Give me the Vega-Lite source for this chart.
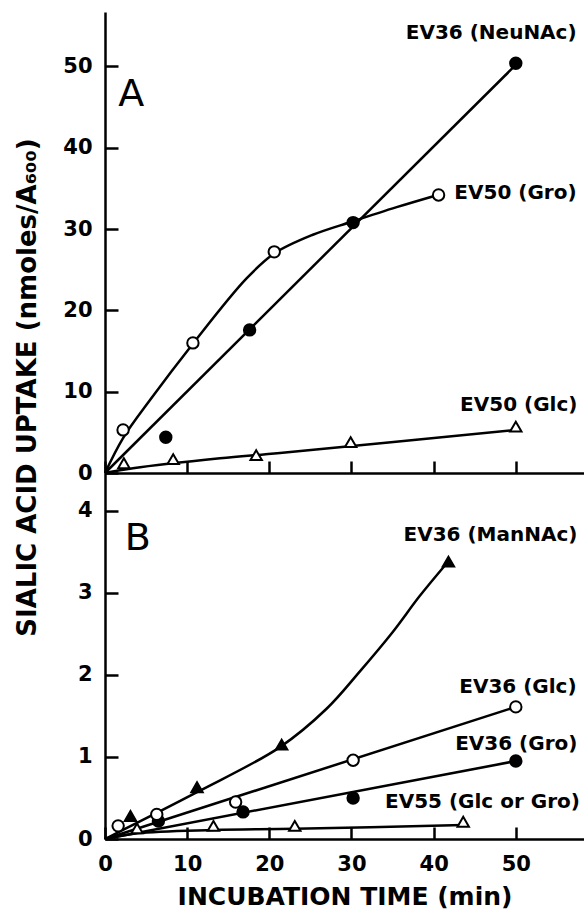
{
  "$schema": "https://vega.github.io/schema/vega-lite/v6.json",
  "padding": {"left": 14, "top": 12, "right": 0, "bottom": 0},
  "spacing": 0,
  "bounds": "flush",
  "background": "white",
  "config": {
    "view": {"stroke": null},
    "font": "DejaVu Sans",
    "axis": {
      "domainColor": "black", "domainWidth": 2.5, "tickColor": "black", "tickWidth": 2.5,
      "grid": false, "labelFont": "DejaVu Sans", "labelFontWeight": "bold", "labelFontSize": 21,
      "labelColor": "black", "titleColor": "black", "titleFont": "DejaVu Sans", "titleFontWeight": "bold",
      "labelFlush": false
    }
  },
  "resolve": {"scale": {"x": "independent", "y": "independent"}},
  "datasets": {
    "curves": [
      {"panel": "A", "series": "NeuNAc", "x": 0, "y": 0},
      {"panel": "A", "series": "NeuNAc", "x": 50, "y": 50.2},
      {"panel": "A", "series": "Gro50", "x": 0, "y": 0},
      {"panel": "A", "series": "Gro50", "x": 2.2, "y": 4.3},
      {"panel": "A", "series": "Gro50", "x": 5.5, "y": 9.0},
      {"panel": "A", "series": "Gro50", "x": 10.7, "y": 15.9},
      {"panel": "A", "series": "Gro50", "x": 17.2, "y": 23.9},
      {"panel": "A", "series": "Gro50", "x": 20.6, "y": 27.0},
      {"panel": "A", "series": "Gro50", "x": 25.3, "y": 29.3},
      {"panel": "A", "series": "Gro50", "x": 30, "y": 30.9},
      {"panel": "A", "series": "Gro50", "x": 35.5, "y": 32.7},
      {"panel": "A", "series": "Gro50", "x": 40.5, "y": 34.2},
      {"panel": "A", "series": "Glc50", "x": 0, "y": 0},
      {"panel": "A", "series": "Glc50", "x": 3.4, "y": 0.58},
      {"panel": "A", "series": "Glc50", "x": 14, "y": 1.8},
      {"panel": "A", "series": "Glc50", "x": 21.3, "y": 2.46},
      {"panel": "A", "series": "Glc50", "x": 50, "y": 5.3},
      {"panel": "B", "series": "ManNAc", "x": 0, "y": 0},
      {"panel": "B", "series": "ManNAc", "x": 11.2, "y": 0.57},
      {"panel": "B", "series": "ManNAc", "x": 21.3, "y": 1.12},
      {"panel": "B", "series": "ManNAc", "x": 27, "y": 1.59},
      {"panel": "B", "series": "ManNAc", "x": 31, "y": 2.04},
      {"panel": "B", "series": "ManNAc", "x": 35, "y": 2.52},
      {"panel": "B", "series": "ManNAc", "x": 38.3, "y": 2.96},
      {"panel": "B", "series": "ManNAc", "x": 41.6, "y": 3.36},
      {"panel": "B", "series": "Glc36", "x": 0, "y": 0},
      {"panel": "B", "series": "Glc36", "x": 50, "y": 1.61},
      {"panel": "B", "series": "Gro36", "x": 0, "y": 0},
      {"panel": "B", "series": "Gro36", "x": 50, "y": 0.95},
      {"panel": "B", "series": "EV55", "x": 0, "y": 0},
      {"panel": "B", "series": "EV55", "x": 3.9, "y": 0.07},
      {"panel": "B", "series": "EV55", "x": 13.2, "y": 0.11},
      {"panel": "B", "series": "EV55", "x": 23.1, "y": 0.125},
      {"panel": "B", "series": "EV55", "x": 43.6, "y": 0.17}
    ],
    "points": [
      {"panel": "A", "series": "NeuNAc", "marker": "fc", "x": 7.4, "y": 4.4},
      {"panel": "A", "series": "NeuNAc", "marker": "fc", "x": 17.6, "y": 17.6},
      {"panel": "A", "series": "NeuNAc", "marker": "fc", "x": 30.2, "y": 30.8},
      {"panel": "A", "series": "NeuNAc", "marker": "fc", "x": 50, "y": 50.4},
      {"panel": "A", "series": "Gro50", "marker": "oc", "x": 2.2, "y": 5.3},
      {"panel": "A", "series": "Gro50", "marker": "oc", "x": 10.7, "y": 16.0},
      {"panel": "A", "series": "Gro50", "marker": "oc", "x": 20.6, "y": 27.2},
      {"panel": "A", "series": "Gro50", "marker": "oc", "x": 40.6, "y": 34.2},
      {"panel": "A", "series": "Glc50", "marker": "ot", "x": 2.3, "y": 1.2},
      {"panel": "A", "series": "Glc50", "marker": "ot", "x": 8.3, "y": 1.7},
      {"panel": "A", "series": "Glc50", "marker": "ot", "x": 18.4, "y": 2.2},
      {"panel": "A", "series": "Glc50", "marker": "ot", "x": 29.9, "y": 3.8},
      {"panel": "A", "series": "Glc50", "marker": "ot", "x": 50, "y": 5.7},
      {"panel": "B", "series": "ManNAc", "marker": "ft", "x": 3.1, "y": 0.28},
      {"panel": "B", "series": "ManNAc", "marker": "ft", "x": 11.2, "y": 0.63},
      {"panel": "B", "series": "ManNAc", "marker": "ft", "x": 21.5, "y": 1.15},
      {"panel": "B", "series": "ManNAc", "marker": "ft", "x": 41.8, "y": 3.38},
      {"panel": "B", "series": "Gro36", "marker": "fc", "x": 6.5, "y": 0.22},
      {"panel": "B", "series": "Gro36", "marker": "fc", "x": 16.8, "y": 0.33},
      {"panel": "B", "series": "Gro36", "marker": "fc", "x": 30.2, "y": 0.5},
      {"panel": "B", "series": "Gro36", "marker": "fc", "x": 50, "y": 0.95},
      {"panel": "B", "series": "Glc36", "marker": "oc", "x": 1.6, "y": 0.16},
      {"panel": "B", "series": "Glc36", "marker": "oc", "x": 6.3, "y": 0.30},
      {"panel": "B", "series": "Glc36", "marker": "oc", "x": 15.9, "y": 0.45},
      {"panel": "B", "series": "Glc36", "marker": "oc", "x": 30.2, "y": 0.96},
      {"panel": "B", "series": "Glc36", "marker": "oc", "x": 50, "y": 1.61},
      {"panel": "B", "series": "EV55", "marker": "ot", "x": 3.9, "y": 0.13},
      {"panel": "B", "series": "EV55", "marker": "ot", "x": 13.2, "y": 0.16},
      {"panel": "B", "series": "EV55", "marker": "ot", "x": 23.1, "y": 0.16},
      {"panel": "B", "series": "EV55", "marker": "ot", "x": 43.6, "y": 0.21}
    ],
    "labels": [
      {"panel": "A", "x": 57.4, "y": 54.1, "text": "EV36 (NeuNAc)"},
      {"panel": "A", "x": 57.4, "y": 34.4, "text": "EV50 (Gro)"},
      {"panel": "A", "x": 57.5, "y": 8.4, "text": "EV50 (Glc)"},
      {"panel": "B", "x": 57.5, "y": 3.70, "text": "EV36 (ManNAc)"},
      {"panel": "B", "x": 57.4, "y": 1.85, "text": "EV36 (Glc)"},
      {"panel": "B", "x": 57.5, "y": 1.16, "text": "EV36 (Gro)"},
      {"panel": "B", "x": 57.8, "y": 0.45, "text": "EV55 (Glc or Gro)"}
    ],
    "letters": [
      {"panel": "A", "x": 1.6, "y": 46.5, "text": "A"},
      {"panel": "B", "x": 2.4, "y": 3.66, "text": "B"}
    ]
  },
  "vconcat": [
    {
      "width": 479,
      "height": 461,
      "layer": [
        {
          "data": {"name": "curves"},
          "transform": [{"filter": "datum.panel == 'A'"}],
          "mark": {"type": "line", "interpolate": "catmull-rom", "color": "black", "strokeWidth": 2.5},
          "encoding": {
            "x": {"field": "x", "type": "quantitative", "scale": {"domain": [0, 58.3], "nice": false},
                  "axis": {"values": [0, 10, 20, 30, 40, 50], "labels": false, "tickSize": -12, "title": null}},
            "y": {"field": "y", "type": "quantitative", "scale": {"domain": [0, 56.7], "nice": false},
                  "axis": {"values": [0, 10, 20, 30, 40, 50], "tickSize": -13, "labelPadding": 26,
                           "title": "SIALIC  ACID  UPTAKE  (nmoles/A₆₀₀)", "titleFontSize": 26, "titleY": 375, "titlePadding": 22}},
            "detail": {"field": "series"}
          }
        },
        {
          "data": {"name": "points"},
          "transform": [{"filter": "datum.panel == 'A'"}],
          "mark": {"type": "point", "filled": true, "stroke": "black", "strokeWidth": 2, "opacity": 1},
          "encoding": {
            "x": {"field": "x", "type": "quantitative"},
            "y": {"field": "y", "type": "quantitative"},
            "shape": {"field": "marker", "type": "nominal", "scale": {"domain": ["oc", "fc", "ot", "ft"], "range": ["circle", "circle", "triangle-up", "triangle-up"]}, "legend": null},
            "fill": {"field": "marker", "type": "nominal", "scale": {"domain": ["oc", "fc", "ot", "ft"], "range": ["white", "black", "white", "black"]}, "legend": null},
            "size": {"field": "marker", "type": "nominal", "scale": {"domain": ["oc", "fc", "ot", "ft"], "range": [130, 130, 160, 160]}, "legend": null}
          }
        },
        {
          "data": {"name": "labels"},
          "transform": [{"filter": "datum.panel == 'A'"}],
          "mark": {"type": "text", "align": "right", "baseline": "middle", "fontSize": 20, "fontWeight": "bold", "font": "DejaVu Sans", "color": "black"},
          "encoding": {
            "x": {"field": "x", "type": "quantitative"},
            "y": {"field": "y", "type": "quantitative"},
            "text": {"field": "text"}
          }
        },
        {
          "data": {"name": "letters"},
          "transform": [{"filter": "datum.panel == 'A'"}],
          "mark": {"type": "text", "align": "left", "baseline": "middle", "fontSize": 38, "font": "DejaVu Sans", "color": "black"},
          "encoding": {
            "x": {"field": "x", "type": "quantitative"},
            "y": {"field": "y", "type": "quantitative"},
            "text": {"field": "text"}
          }
        }
      ]
    },
    {
      "width": 479,
      "height": 366,
      "layer": [
        {
          "data": {"name": "curves"},
          "transform": [{"filter": "datum.panel == 'B'"}],
          "mark": {"type": "line", "interpolate": "catmull-rom", "color": "black", "strokeWidth": 2.5},
          "encoding": {
            "x": {"field": "x", "type": "quantitative", "scale": {"domain": [0, 58.3], "nice": false},
                  "axis": {"values": [0, 10, 20, 30, 40, 50], "tickSize": -12, "labelPadding": 26,
                           "title": "INCUBATION  TIME  (min)", "titleFontSize": 25, "titlePadding": 10}},
            "y": {"field": "y", "type": "quantitative", "scale": {"domain": [0, 4.46], "nice": false},
                  "axis": {"values": [0, 1, 2, 3, 4], "format": "d", "tickSize": -13, "labelPadding": 26, "title": null}},
            "detail": {"field": "series"}
          }
        },
        {
          "data": {"name": "points"},
          "transform": [{"filter": "datum.panel == 'B'"}],
          "mark": {"type": "point", "filled": true, "stroke": "black", "strokeWidth": 2, "opacity": 1},
          "encoding": {
            "x": {"field": "x", "type": "quantitative"},
            "y": {"field": "y", "type": "quantitative"},
            "shape": {"field": "marker", "type": "nominal", "scale": {"domain": ["oc", "fc", "ot", "ft"], "range": ["circle", "circle", "triangle-up", "triangle-up"]}, "legend": null},
            "fill": {"field": "marker", "type": "nominal", "scale": {"domain": ["oc", "fc", "ot", "ft"], "range": ["white", "black", "white", "black"]}, "legend": null},
            "size": {"field": "marker", "type": "nominal", "scale": {"domain": ["oc", "fc", "ot", "ft"], "range": [130, 130, 160, 160]}, "legend": null}
          }
        },
        {
          "data": {"name": "labels"},
          "transform": [{"filter": "datum.panel == 'B'"}],
          "mark": {"type": "text", "align": "right", "baseline": "middle", "fontSize": 20, "fontWeight": "bold", "font": "DejaVu Sans", "color": "black"},
          "encoding": {
            "x": {"field": "x", "type": "quantitative"},
            "y": {"field": "y", "type": "quantitative"},
            "text": {"field": "text"}
          }
        },
        {
          "data": {"name": "letters"},
          "transform": [{"filter": "datum.panel == 'B'"}],
          "mark": {"type": "text", "align": "left", "baseline": "middle", "fontSize": 38, "font": "DejaVu Sans", "color": "black"},
          "encoding": {
            "x": {"field": "x", "type": "quantitative"},
            "y": {"field": "y", "type": "quantitative"},
            "text": {"field": "text"}
          }
        }
      ]
    }
  ]
}
